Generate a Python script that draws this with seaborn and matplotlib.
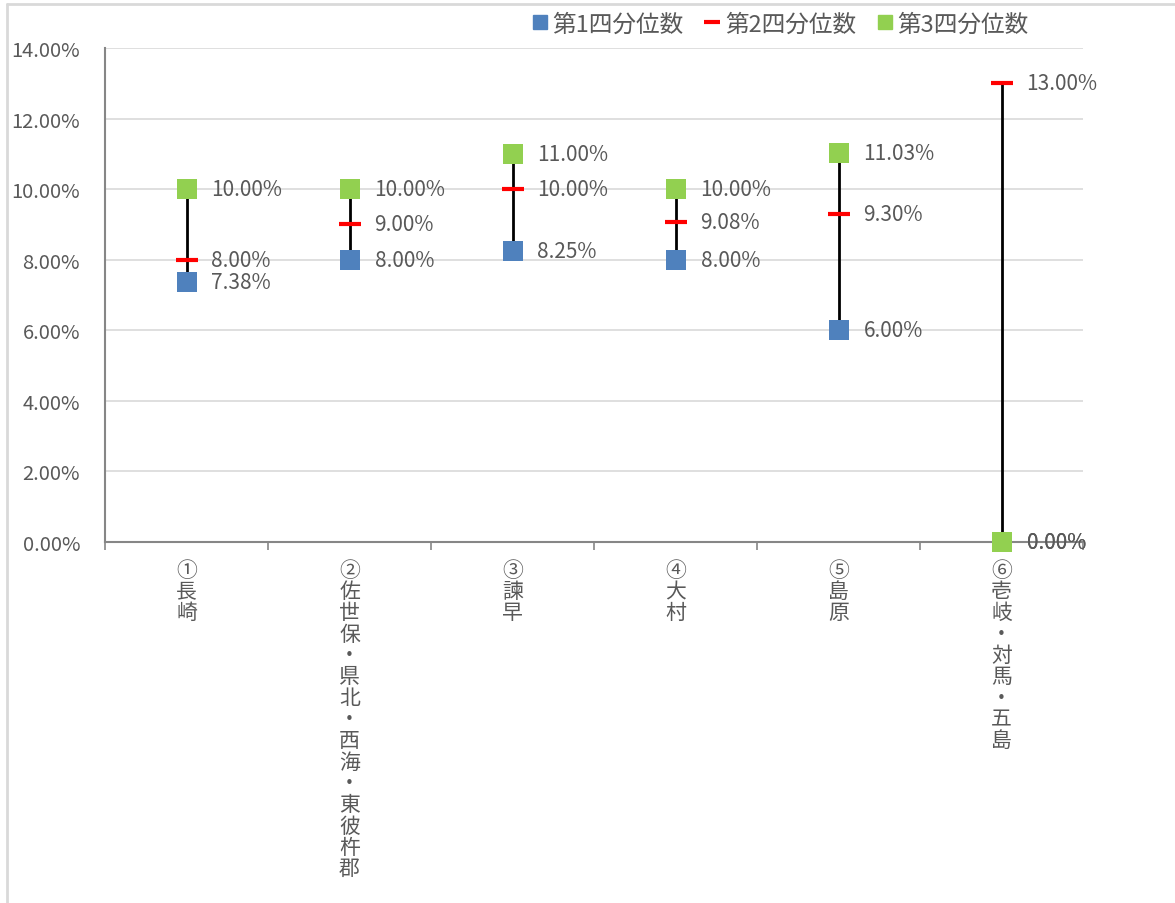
import numpy as np
import pandas as pd
import matplotlib
matplotlib.use("Agg")
import matplotlib.pyplot as plt
from matplotlib.lines import Line2D
import seaborn as sns

categories = ["①長崎", "②佐世保・県北・西海・東彼杵郡", "③諫早", "④大村", "⑤島原", "⑥壱岐・対馬・五島"]
q1 = [7.38, 8.00, 8.25, 8.00, 6.00, 0.00]
q2 = [8.00, 9.00, 10.00, 9.08, 9.30, 13.00]
q3 = [10.00, 10.00, 11.00, 10.00, 11.03, 0.00]
series_names = ["第1四分位数", "第2四分位数", "第3四分位数"]
y_ticks = [0, 2, 4, 6, 8, 10, 12, 14]

sns.set_theme(style="white")
plt.rcParams["font.family"] = ["Noto Sans CJK JP", "DejaVu Sans"]

TXT = "#595959"
BLUE = "#4F81BD"
RED = "#FF0000"
GREEN = "#92D050"

fig = plt.figure(figsize=(11.75, 9.04), dpi=100)
ax = fig.add_axes([105 / 1175, 1 - 543 / 904, (1083 - 105) / 1175, (543 - 49) / 904])

x = np.arange(len(categories))
df = pd.DataFrame({"x": x, "q1": q1, "q2": q2, "q3": q3})
lo = df[["q1", "q2", "q3"]].min(axis=1)
hi = df[["q1", "q2", "q3"]].max(axis=1)

ax.vlines(df["x"], lo, hi, color="black", lw=2, zorder=2)

sns.scatterplot(data=df, x="x", y="q1", marker="s", s=220, color=BLUE,
                edgecolor=BLUE, linewidth=0, ax=ax, zorder=3, legend=False, clip_on=False)
sns.scatterplot(data=df, x="x", y="q3", marker="s", s=220, color=GREEN,
                edgecolor=GREEN, linewidth=0, ax=ax, zorder=3, legend=False, clip_on=False)
sns.scatterplot(data=df, x="x", y="q2", marker="_", s=260, color=RED,
                linewidth=3, ax=ax, zorder=4, legend=False, clip_on=False)

for col in ["q1", "q2", "q3"]:
    for xi, v in zip(df["x"], df[col]):
        ax.annotate(f"{v:.2f}%", (xi, v), xytext=(18, 0), textcoords="offset points",
                    va="center", ha="left", fontsize=15, color=TXT, zorder=5,
                    annotation_clip=False)

ax.set_xlim(-0.5, len(categories) - 0.5)
ax.set_ylim(0, 14)
ax.set_yticks(y_ticks)
ax.set_yticklabels([f"{t:.2f}%" for t in y_ticks])
ax.set_xticks(x)
ax.set_xticklabels(["\n".join(list(c)) for c in categories], linespacing=0.96)
ax.set_xticks(np.arange(-0.5, len(categories)), minor=True)
ax.tick_params(axis="x", which="major", length=0, pad=12, labelsize=15, labelcolor=TXT)
ax.tick_params(axis="x", which="minor", length=6, width=1.2, color="#868686", bottom=True)
ax.tick_params(axis="y", which="major", length=0, pad=18, labelsize=14.5, labelcolor=TXT)
for lbl in ax.get_xticklabels():
    lbl.set_va("top")
ax.set_xlabel("")
ax.set_ylabel("")
ax.grid(axis="y", color="#d9d9d9", lw=1.2)
ax.grid(axis="x", visible=False)
ax.set_axisbelow(True)
for s in ["top", "right"]:
    ax.spines[s].set_visible(False)
for s in ["left", "bottom"]:
    ax.spines[s].set_color("#868686")
    ax.spines[s].set_linewidth(1.5)
    ax.spines[s].set_zorder(1)

handles = [
    Line2D([], [], marker="s", color=BLUE, ls="none", markersize=10),
    Line2D([], [], marker="_", color=RED, ls="none", markersize=12, markeredgewidth=3),
    Line2D([], [], marker="s", color=GREEN, ls="none", markersize=10),
]
leg = fig.legend(handles, series_names, loc="center", bbox_to_anchor=(780 / 1175, 1 - 25 / 904),
                 ncol=3, frameon=False, fontsize=17, handlelength=0.7, handletextpad=0.2,
                 columnspacing=0.85)
for t in leg.get_texts():
    t.set_color(TXT)

fig.add_artist(Line2D([7 / 1175, 1], [1 - 5 / 904, 1 - 5 / 904], color="#d9d9d9", lw=2,
                      transform=fig.transFigure))
fig.add_artist(Line2D([7 / 1175, 7 / 1175], [0, 1 - 5 / 904], color="#d9d9d9", lw=2,
                      transform=fig.transFigure))

fig.savefig("out.png", dpi=100)
